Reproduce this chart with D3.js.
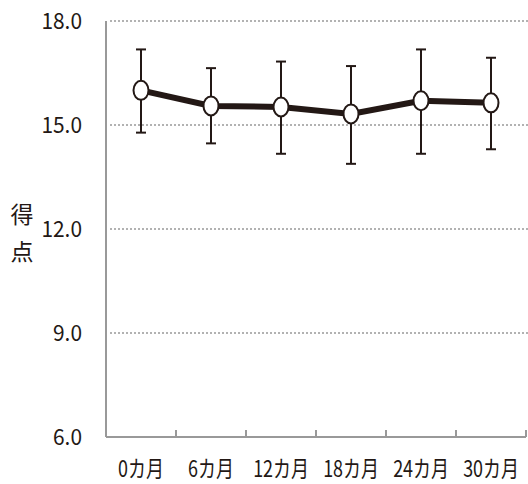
<!DOCTYPE html>
<html>
<head>
<meta charset="utf-8">
<script src="https://cdn.jsdelivr.net/npm/d3@7"></script>
<style>
  body { margin: 0; background: #fff; }
  svg text { font-family: "Noto Sans CJK JP", "Noto Sans", sans-serif; fill: #231815; font-weight: 400; }
</style>
</head>
<body>
<div id="chart"></div>
<script>
// data
var categories = ["0カ月", "6カ月", "12カ月", "18カ月", "24カ月", "30カ月"];
var means = [16.0, 15.55, 15.52, 15.32, 15.7, 15.64];
var upper = [17.18, 16.64, 16.83, 16.7, 17.18, 16.94];
var lower = [14.78, 14.47, 14.17, 13.88, 14.17, 14.3];
var yTicks = [6, 9, 12, 15, 18];

var width = 528, height = 484;
var plotLeft = 106, plotRight = 526, plotTop = 21, plotBottom = 437;

var svg = d3.select("#chart").append("svg")
  .attr("width", width)
  .attr("height", height);

var x = d3.scaleBand().domain(categories).range([plotLeft, plotRight]);
var y = d3.scaleLinear().domain([6, 18]).range([plotBottom, plotTop]);

// dotted grid lines
svg.selectAll(".grid")
  .data(yTicks.filter(function(d) { return d > 6; }))
  .enter().append("line")
  .attr("x1", plotLeft + 4).attr("x2", width)
  .attr("y1", function(d) { return y(d); })
  .attr("y2", function(d) { return y(d); })
  .attr("stroke", "#999")
  .attr("stroke-width", 1.5)
  .attr("stroke-dasharray", "2,2");

// axes lines
svg.append("line")
  .attr("x1", plotLeft).attr("x2", plotLeft)
  .attr("y1", plotTop).attr("y2", plotBottom)
  .attr("stroke", "#999").attr("stroke-width", 2);
svg.append("line")
  .attr("x1", plotLeft).attr("x2", plotRight)
  .attr("y1", plotBottom).attr("y2", plotBottom)
  .attr("stroke", "#999").attr("stroke-width", 2);

// x ticks at band boundaries
svg.selectAll(".xtick")
  .data(categories)
  .enter().append("line")
  .attr("x1", function(d) { return x(d) + x.bandwidth(); })
  .attr("x2", function(d) { return x(d) + x.bandwidth(); })
  .attr("y1", plotBottom).attr("y2", plotBottom - 7)
  .attr("stroke", "#999").attr("stroke-width", 2);

// y tick labels
svg.selectAll(".ylab")
  .data(yTicks)
  .enter().append("text")
  .attr("transform", function(d) { return "translate(82," + (y(d) + 8) + ") scale(0.95,1)"; })
  .attr("text-anchor", "end")
  .attr("font-size", 22)
  .text(function(d) { return d.toFixed(1); });

// x labels (narrow, tall glyphs)
svg.selectAll(".xlab")
  .data(categories)
  .enter().append("text")
  .attr("transform", function(d) {
    return "translate(" + (x(d) + x.bandwidth() / 2) + ",477) scale(0.78,1)";
  })
  .attr("text-anchor", "middle")
  .attr("font-size", 23)
  .text(function(d) { return d; });

// y title, vertical
svg.append("text").attr("x", 22).attr("y", 223).attr("text-anchor", "middle")
  .attr("font-size", 23).text("得");
svg.append("text").attr("x", 22).attr("y", 260).attr("text-anchor", "middle")
  .attr("font-size", 23).text("点");

var cx = function(d, i) { return x(categories[i]) + x.bandwidth() / 2; };

// error bars
var eb = svg.append("g").attr("stroke", "#231815").attr("stroke-width", 2);
means.forEach(function(m, i) {
  var px = cx(m, i);
  eb.append("line").attr("x1", px).attr("x2", px)
    .attr("y1", y(upper[i])).attr("y2", y(lower[i]));
  eb.append("line").attr("x1", px - 5).attr("x2", px + 5)
    .attr("y1", y(upper[i])).attr("y2", y(upper[i]));
  eb.append("line").attr("x1", px - 5).attr("x2", px + 5)
    .attr("y1", y(lower[i])).attr("y2", y(lower[i]));
});

// mean line
var line = d3.line()
  .x(function(d, i) { return cx(d, i); })
  .y(function(d) { return y(d); });
svg.append("path")
  .datum(means)
  .attr("d", line)
  .attr("fill", "none")
  .attr("stroke", "#231815")
  .attr("stroke-width", 6);

// markers
svg.selectAll(".pt")
  .data(means)
  .enter().append("ellipse")
  .attr("cx", function(d, i) { return cx(d, i); })
  .attr("cy", function(d) { return y(d); })
  .attr("rx", 7.5)
  .attr("ry", 9.5)
  .attr("fill", "#fff")
  .attr("stroke", "#231815")
  .attr("stroke-width", 2);
</script>
</body>
</html>
